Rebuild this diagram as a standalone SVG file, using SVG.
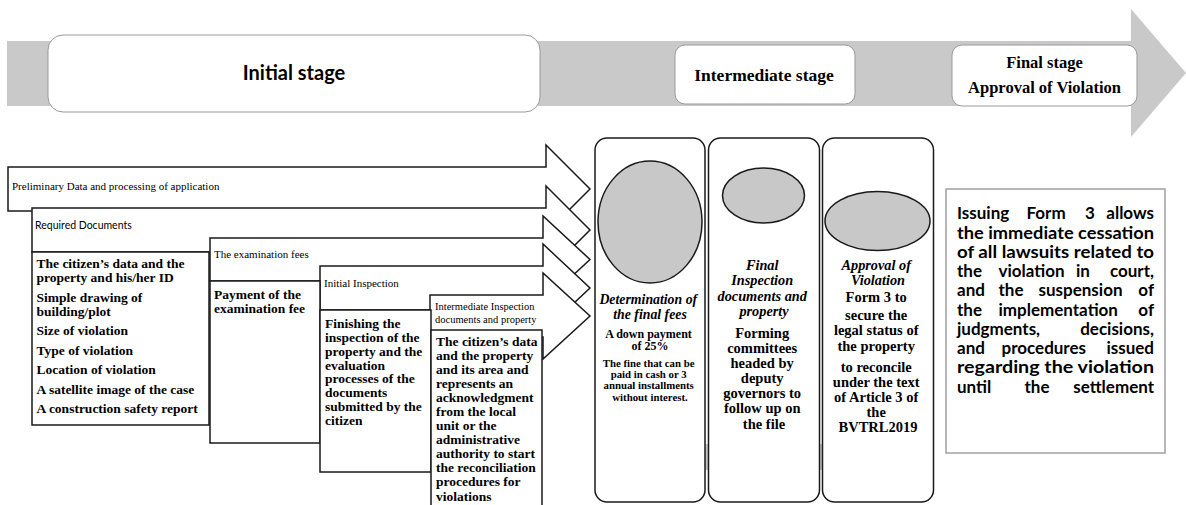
<svg xmlns="http://www.w3.org/2000/svg" width="1186" height="505" viewBox="0 0 1186 505">
<style>
.ser{font-family:"Liberation Serif","Times New Roman",serif;fill:#000}
.b{font-weight:bold}
.bi{font-weight:bold;font-style:italic}
.san{font-family:Lato,"Liberation Sans",sans-serif;fill:#000}
.arr{fill:#fff;stroke:#1a1a1a;stroke-width:1.5;stroke-linejoin:miter}
.box{fill:#fff;stroke:#1a1a1a;stroke-width:1.5}
.stage{fill:#fff;stroke:#9a9a9a;stroke-width:1}
.col{fill:#fff;stroke:#1a1a1a;stroke-width:1.5}
.ell{fill:#c8c8c8;stroke:#1a1a1a;stroke-width:1.5}
.gray{fill:#c9c9c9}
</style>

<g id="timeline">
<polygon class="gray" points="7,41 1131,41 1131,9 1186,73 1131,137 1131,106 7,106"/>
</g>

<g id="stage-initial">
<rect class="stage" x="48" y="35" width="492" height="77" rx="15"/>
<text class="san b" x="294" y="80" font-size="20" text-anchor="middle">Initial stage</text>
</g>
<g id="stage-intermediate">
<rect class="stage" x="675" y="45" width="180" height="59" rx="10"/>
<text class="ser b" x="764" y="81" font-size="17.5" text-anchor="middle">Intermediate stage</text>
</g>
<g id="stage-final">
<rect class="stage" x="952" y="45" width="185" height="61" rx="10"/>
<text class="ser b" x="1044.5" y="68" font-size="16.5" text-anchor="middle">Final stage</text>
<text class="ser b" x="1044.5" y="93" font-size="16.5" text-anchor="middle">Approval of Violation</text>
</g>

<g id="connectors">
<path id="arrow-preliminary" class="arr" d="M8,167 H546 V145 L590,189 L546,233 V211 H8 Z"/>
<text class="ser" x="12" y="190" font-size="11">Preliminary Data and processing of application</text>
<path id="arrow-required" class="arr" d="M32,208 H546 V186 L590,230 L546,274 V252 H32 Z"/>
<text class="san" x="35" y="228.5" font-size="10.5">Required Documents</text>
<path id="arrow-fees" class="arr" d="M210,238 H543 V216 L590,259.5 L543,303 V281 H210 Z"/>
<text class="ser" x="214" y="258" font-size="11">The examination fees</text>
<path id="arrow-initial-inspection" class="arr" d="M320,266 H543 V244 L590,288 L543,332 V310 H320 Z"/>
<text class="ser" x="324" y="287" font-size="11">Initial Inspection</text>
<path id="arrow-intermediate-inspection" class="arr" d="M430,295 H543 V273 L590,316 L543,359 V337 H430 Z"/>
<text class="ser" x="435" y="309.5" font-size="10.5">Intermediate Inspection</text>
<text class="ser" x="435" y="322.5" font-size="10.5">documents and property</text>
<polygon id="double-arrow" class="gray" points="609,457 635,432 635,444 893,444 893,432 918,457 893,483 893,470 635,470 635,483"/>
</g>

<g id="box-documents">
<rect class="box" x="32" y="252" width="177" height="173"/>
<text class="ser b" font-size="13.5">
<tspan x="36.5" y="268">The citizen’s data and the</tspan>
<tspan x="36.5" y="282">property and his/her ID</tspan>
<tspan x="36.5" y="302">Simple drawing of</tspan>
<tspan x="36.5" y="315.5">building/plot</tspan>
<tspan x="36.5" y="335">Size of violation</tspan>
<tspan x="36.5" y="354.5">Type of violation</tspan>
<tspan x="36.5" y="374">Location of violation</tspan>
<tspan x="36.5" y="393.5">A satellite  image of the case</tspan>
<tspan x="36.5" y="413">A construction safety report</tspan>
</text>
</g>

<g id="box-payment">
<rect class="box" x="210" y="281" width="110" height="162"/>
<text class="ser b" font-size="13.5">
<tspan x="214" y="299">Payment of the</tspan>
<tspan x="214" y="313">examination fee</tspan>
</text>
</g>

<g id="box-finishing">
<rect class="box" x="320" y="310" width="111" height="162"/>
<text class="ser b" font-size="13.5">
<tspan x="325" y="327.5">Finishing the</tspan>
<tspan x="325" y="341.5">inspection of the</tspan>
<tspan x="325" y="355.5">property and the</tspan>
<tspan x="325" y="369.5">evaluation</tspan>
<tspan x="325" y="383">processes of the</tspan>
<tspan x="325" y="397">documents</tspan>
<tspan x="325" y="411">submitted by the</tspan>
<tspan x="325" y="424.5">citizen</tspan>
</text>
</g>

<g id="box-acknowledgment">
<rect class="box" x="431" y="330" width="111" height="185"/>
<text class="ser b" font-size="13.5">
<tspan x="436" y="345.5">The citizen’s data</tspan>
<tspan x="436" y="359.5">and the property</tspan>
<tspan x="436" y="373.5">and its area and</tspan>
<tspan x="436" y="388">represents an</tspan>
<tspan x="436" y="402">acknowledgment</tspan>
<tspan x="436" y="416">from the local</tspan>
<tspan x="436" y="430">unit or the</tspan>
<tspan x="436" y="444">administrative</tspan>
<tspan x="436" y="458">authority to start</tspan>
<tspan x="436" y="472">the reconciliation</tspan>
<tspan x="436" y="486">procedures for</tspan>
<tspan x="436" y="500.5">violations</tspan>
</text>
</g>

<g id="col-fees">
<rect class="col" x="595" y="138" width="110" height="364" rx="12"/>
<ellipse class="ell" cx="650" cy="222" rx="52" ry="61"/>
<text class="ser bi" font-size="13.8" text-anchor="middle">
<tspan x="650" y="303.5">Determination of</tspan>
<tspan x="650" y="318.5">the final fees</tspan>
</text>
<text class="ser b" font-size="12" text-anchor="middle">
<tspan x="650" y="337.5">A down payment</tspan>
<tspan x="650" y="350">of 25%</tspan>
</text>
<text class="ser b" font-size="10.8" text-anchor="middle">
<tspan x="650" y="366.5">The fine that can be</tspan>
<tspan x="650" y="378">paid in cash or 3</tspan>
<tspan x="650" y="389">annual installments</tspan>
<tspan x="650" y="400.5">without interest.</tspan>
</text>
</g>

<g id="col-final-inspection">
<rect class="col" x="708.5" y="138" width="111" height="364" rx="12"/>
<ellipse class="ell" cx="763.5" cy="195.5" rx="41" ry="27.5"/>
<text class="ser bi" font-size="14.3" text-anchor="middle">
<tspan x="764" y="269.5">Final</tspan>
<tspan x="764" y="285">Inspection</tspan>
<tspan x="764" y="300.5">documents and</tspan>
<tspan x="764" y="316">property</tspan>
</text>
<text class="ser b" font-size="14.5" text-anchor="middle">
<tspan x="764" y="338">Forming</tspan>
<tspan x="764" y="353">committees</tspan>
<tspan x="764" y="368">headed by</tspan>
<tspan x="764" y="383">deputy</tspan>
<tspan x="764" y="398">governors to</tspan>
<tspan x="764" y="413">follow up on</tspan>
<tspan x="764" y="428.5">the file</tspan>
</text>
</g>

<g id="col-approval">
<rect class="col" x="822.5" y="138" width="111" height="364" rx="12"/>
<ellipse class="ell" cx="877.5" cy="221" rx="52.5" ry="29.5"/>
<text class="ser bi" font-size="14.3" text-anchor="middle">
<tspan x="878" y="269.5">Approval of</tspan>
<tspan x="878" y="284.5">Violation</tspan>
</text>
<text class="ser b" font-size="14.5" text-anchor="middle">
<tspan x="878" y="302">Form 3 to</tspan>
<tspan x="878" y="320">secure the</tspan>
<tspan x="878" y="335">legal status of</tspan>
<tspan x="878" y="351">the property</tspan>
<tspan x="878" y="372">to reconcile</tspan>
<tspan x="878" y="387">under the text</tspan>
<tspan x="878" y="402">of Article 3 of</tspan>
<tspan x="878" y="417">the</tspan>
<tspan x="878" y="432">BVTRL2019</tspan>
</text>
</g>

<g id="note-form3">
<rect x="946" y="189" width="219" height="264" fill="#fff" stroke="#a0a0a0" stroke-width="1.5"/>
<g class="san b" font-size="17">
<text y="219"><tspan x="957">Issuing</tspan><tspan x="1026.5">Form</tspan><tspan x="1085">3</tspan><tspan x="1154" text-anchor="end">allows</tspan></text>
<text x="957" y="238.5" textLength="197" lengthAdjust="spacingAndGlyphs">the immediate cessation</text>
<text x="957" y="257.5" textLength="197" lengthAdjust="spacingAndGlyphs">of all lawsuits related to</text>
<text y="277"><tspan x="957">the</tspan><tspan x="998.5">violation</tspan><tspan x="1076">in</tspan><tspan x="1154" text-anchor="end">court,</tspan></text>
<text y="296"><tspan x="957">and</tspan><tspan x="998.5">the</tspan><tspan x="1038.5">suspension</tspan><tspan x="1154" text-anchor="end">of</tspan></text>
<text y="315.5"><tspan x="957">the</tspan><tspan x="998.5">implementation</tspan><tspan x="1154" text-anchor="end">of</tspan></text>
<text y="334.5"><tspan x="957">judgments,</tspan><tspan x="1154" text-anchor="end">decisions,</tspan></text>
<text y="354"><tspan x="957">and</tspan><tspan x="1001.5">procedures</tspan><tspan x="1154" text-anchor="end">issued</tspan></text>
<text x="957" y="373" textLength="197" lengthAdjust="spacingAndGlyphs">regarding the violation</text>
<text y="392.5"><tspan x="957">until</tspan><tspan x="1024.5">the</tspan><tspan x="1154" text-anchor="end">settlement</tspan></text>
</g>
</g>
</svg>
